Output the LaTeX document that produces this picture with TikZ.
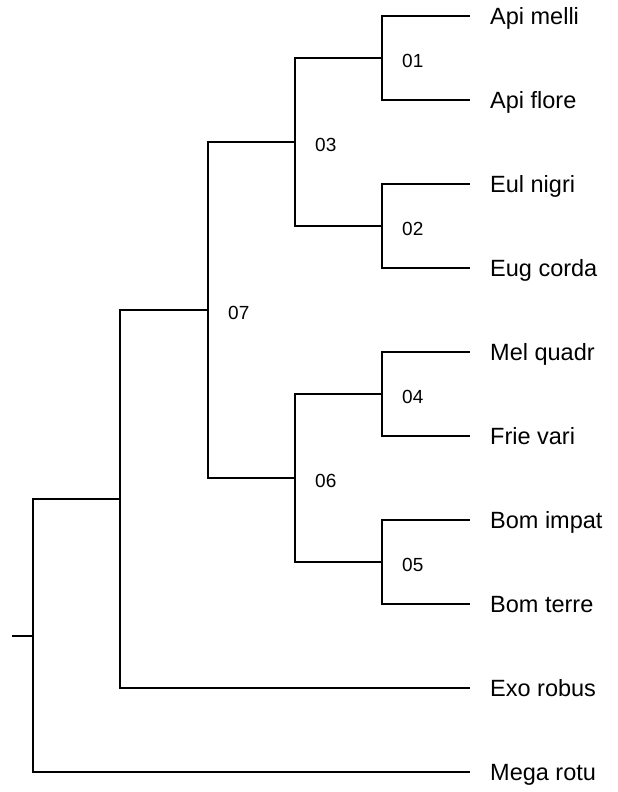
\documentclass[tikz,border=0pt]{standalone}
\usepackage{fontspec}
\setmainfont{Liberation Sans}
\newcommand{\taxonfont}{\fontsize{23.5}{28}\selectfont}
\newcommand{\cladefont}{\fontsize{19}{23}\selectfont}
\tikzset{
  branch/.style={line width=1.6pt},
  taxon/.style={anchor=base west, inner sep=0pt, xshift=20pt, yshift=-8.5pt, font=\taxonfont},
  clade/.style={anchor=base west, inner sep=0pt, xshift=20pt, yshift=-9.7pt, font=\cladefont}
}
\begin{document}
\begin{tikzpicture}[x=1pt,y=-1pt]
  \useasboundingbox (0,0) rectangle (618,792);
  % tips
  \coordinate (apimel) at (470,16);
  \coordinate (apiflo) at (470,100);
  \coordinate (eulnig) at (470,184);
  \coordinate (eugcor) at (470,268);
  \coordinate (melqua) at (470,352);
  \coordinate (frivar) at (470,436);
  \coordinate (bomimp) at (470,520);
  \coordinate (bomter) at (470,604);
  \coordinate (exorob) at (470,688);
  \coordinate (megrot) at (470,772);
  % inner nodes
  \coordinate (c01) at (382,58);
  \coordinate (c02) at (382,226);
  \coordinate (c04) at (382,394);
  \coordinate (c05) at (382,562);
  \coordinate (c03) at (295,142);
  \coordinate (c06) at (295,478);
  \coordinate (c07) at (208,310);
  \coordinate (c08) at (120,499);
  \coordinate (root) at (33,636);
  \coordinate (stem) at (12,636);

  % taxon names
  \node[taxon] (napimel) at (apimel) {Api melli};
  \node[taxon] (napiflo) at (apiflo) {Api flore};
  \node[taxon] (neulnig) at (eulnig) {Eul nigri};
  \node[taxon] (neugcor) at (eugcor) {Eug corda};
  \node[taxon] (nmelqua) at (melqua) {Mel quadr};
  \node[taxon] (nfrivar) at (frivar) {Frie vari};
  \node[taxon] (nbomimp) at (bomimp) {Bom impat};
  \node[taxon] (nbomter) at (bomter) {Bom terre};
  \node[taxon] (nexorob) at (exorob) {Exo robus};
  \node[taxon] (nmegrot) at (megrot) {Mega rotu};

  % clade numbers
  \node[clade] (l01) at (c01) {01};
  \node[clade] (l02) at (c02) {02};
  \node[clade] (l03) at (c03) {03};
  \node[clade] (l04) at (c04) {04};
  \node[clade] (l05) at (c05) {05};
  \node[clade] (l06) at (c06) {06};
  \node[clade] (l07) at (c07) {07};

  % branches
  \draw[branch] (c01) |- (apimel) (c01) |- (apiflo);
  \draw[branch] (c02) |- (eulnig) (c02) |- (eugcor);
  \draw[branch] (c04) |- (melqua) (c04) |- (frivar);
  \draw[branch] (c05) |- (bomimp) (c05) |- (bomter);
  \draw[branch] (c03) |- (c01) (c03) |- (c02);
  \draw[branch] (c06) |- (c04) (c06) |- (c05);
  \draw[branch] (c07) |- (c03) (c07) |- (c06);
  \draw[branch] (c08) |- (c07) (c08) |- (exorob);
  \draw[branch] (root) |- (c08) (root) |- (megrot);
  \draw[branch] (stem) -- (root); % root stub
\end{tikzpicture}
\end{document}
